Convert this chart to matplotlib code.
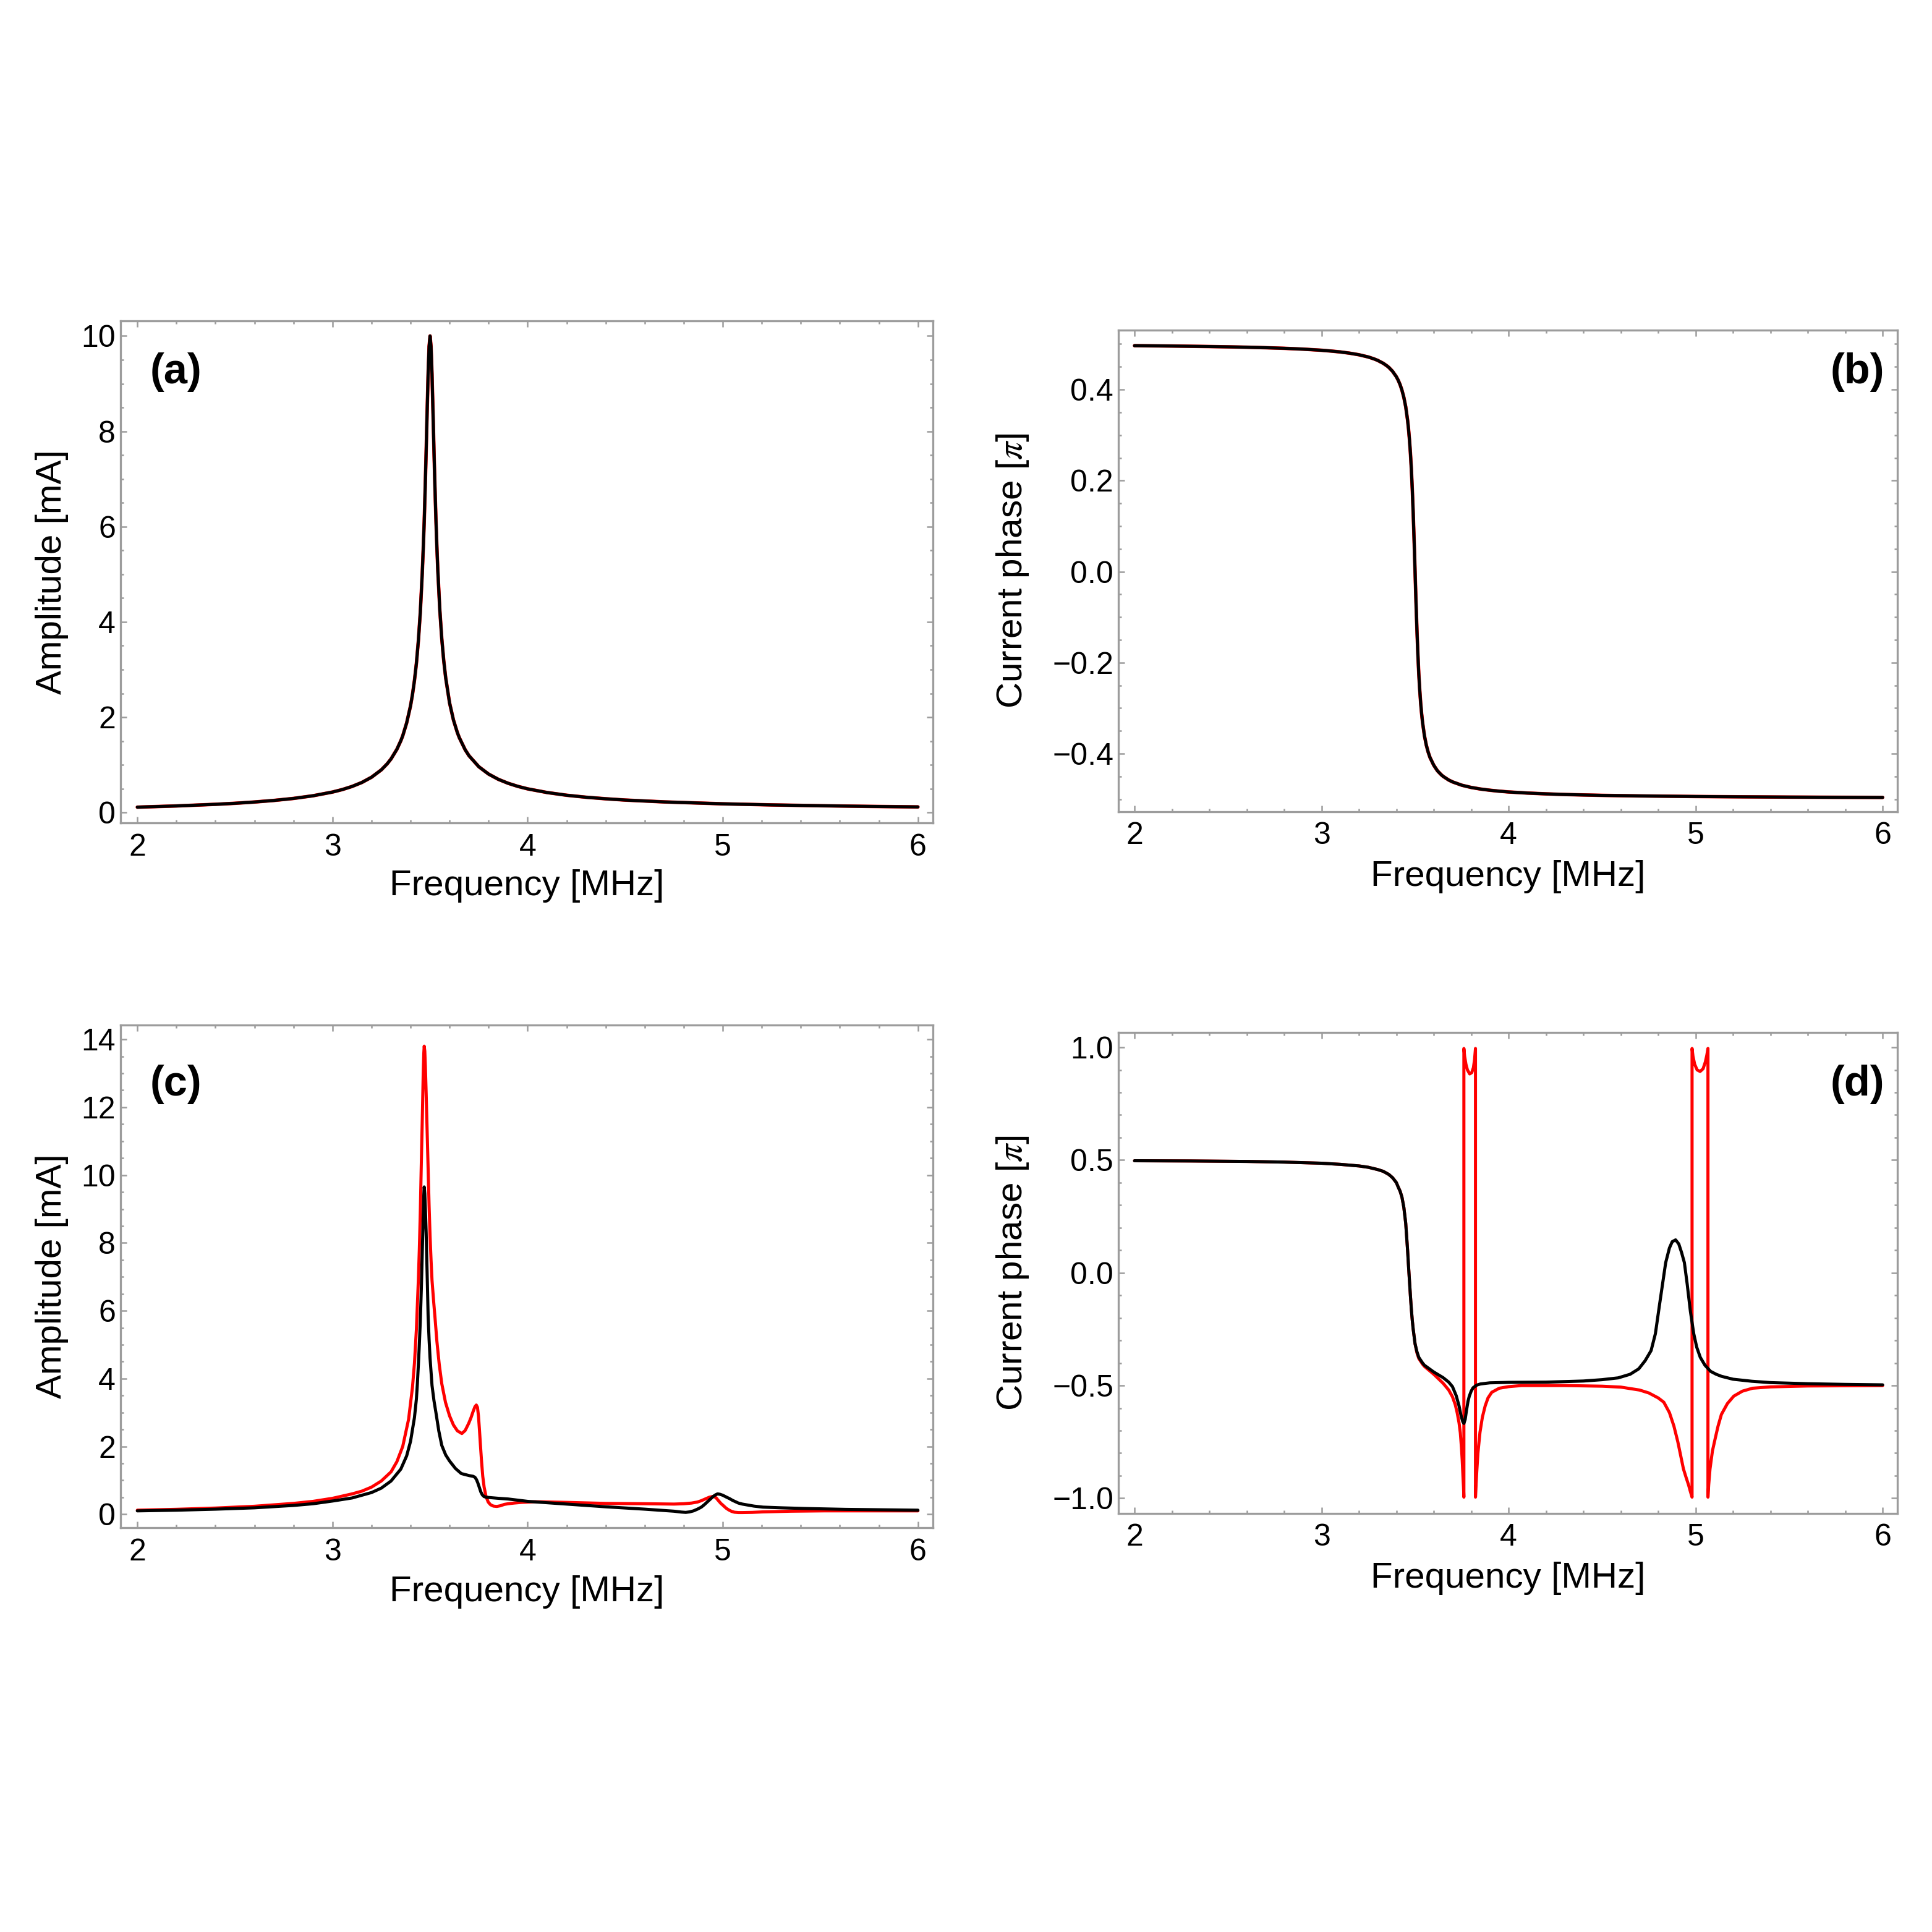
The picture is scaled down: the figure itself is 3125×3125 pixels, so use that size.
import matplotlib
matplotlib.use('Agg')
import matplotlib.pyplot as plt
from matplotlib.ticker import MultipleLocator, FuncFormatter

plt.rcParams['font.family'] = ['Liberation Sans', 'DejaVu Sans']
plt.rcParams['mathtext.fontset'] = 'stix'

# ---- data ----
# (a), (b): single resonance
freq_ab = [2.0, 2.2, 2.4, 2.5, 2.6, 2.7, 2.8, 2.9, 3.0, 3.05, 3.1, 3.15, 3.2, 3.25, 3.28, 3.3,
           3.33, 3.35, 3.36, 3.38, 3.4, 3.41, 3.42, 3.43, 3.44, 3.45, 3.46, 3.465, 3.47, 3.475,
           3.48, 3.485, 3.49, 3.495, 3.5, 3.505, 3.51, 3.515, 3.52, 3.525, 3.53, 3.535, 3.54,
           3.55, 3.56, 3.57, 3.58, 3.6, 3.62, 3.64, 3.65, 3.68, 3.7, 3.75, 3.8, 3.85, 3.9,
           3.95, 4.0, 4.1, 4.2, 4.3, 4.4, 4.5, 4.7, 5.0, 5.25, 5.5, 5.75, 6.0]
amp_a = [0.113, 0.1385, 0.1726, 0.194, 0.221, 0.254, 0.296, 0.352, 0.43, 0.482, 0.547, 0.63,
         0.741, 0.895, 1.021, 1.125, 1.327, 1.505, 1.611, 1.88, 2.24, 2.48, 2.77, 3.13, 3.6,
         4.2, 5.02, 5.53, 6.1, 6.81, 7.58, 8.41, 9.19, 9.78, 10.0, 9.78, 9.19, 8.42, 7.6, 6.84,
         6.16, 5.57, 5.06, 4.25, 3.65, 3.19, 2.83, 2.3, 1.94, 1.676, 1.57, 1.317, 1.19, 0.961,
         0.807, 0.697, 0.614, 0.549, 0.497, 0.42, 0.363, 0.321, 0.289, 0.262, 0.223, 0.183,
         0.16, 0.143, 0.129, 0.118]
phase_b = [0.4964, 0.4956, 0.4945, 0.4938, 0.493, 0.4919, 0.4906, 0.4888, 0.4863, 0.4846,
           0.4826, 0.4799, 0.4764, 0.4715, 0.4674, 0.4641, 0.4576, 0.4519, 0.4485, 0.4399,
           0.4281, 0.4203, 0.4107, 0.3984, 0.3828, 0.3621, 0.3326, 0.3135, 0.29, 0.2615,
           0.2261, 0.1821, 0.1292, 0.0673, 0.0, -0.0673, -0.128, -0.181, -0.2255, -0.2603,
           -0.2889, -0.312, -0.3312, -0.3604, -0.3812, -0.3966, -0.4086, -0.4255, -0.4379,
           -0.4464, -0.4499, -0.458, -0.462, -0.4694, -0.4743, -0.4778, -0.4804, -0.4825,
           -0.4842, -0.4866, -0.4884, -0.4898, -0.4908, -0.4917, -0.4929, -0.4942, -0.4949,
           -0.4955, -0.4959, -0.4962]

# (c) coupled case, amplitude [mA]
freq_c_red = [2.0, 2.2, 2.4, 2.6, 2.8, 2.9, 3.0, 3.1, 3.15, 3.2, 3.25, 3.3, 3.33, 3.36, 3.39,
              3.41, 3.42, 3.43, 3.44, 3.445, 3.45, 3.455, 3.46, 3.465, 3.468, 3.47, 3.473,
              3.476, 3.48, 3.485, 3.49, 3.495, 3.5, 3.505, 3.51, 3.518, 3.526, 3.535, 3.547,
              3.56, 3.579, 3.6, 3.62, 3.64, 3.663, 3.68, 3.698, 3.71, 3.72, 3.73, 3.737,
              3.743, 3.748, 3.753, 3.758, 3.764, 3.77, 3.777, 3.787, 3.798, 3.81, 3.825,
              3.842, 3.86, 3.88, 3.9, 3.93, 3.97, 4.04, 4.2, 4.4, 4.6, 4.75, 4.8, 4.84, 4.87,
              4.89, 4.91, 4.93, 4.952, 4.965, 4.975, 4.99, 5.0, 5.017, 5.03, 5.045, 5.06,
              5.08, 5.1, 5.15, 5.206, 5.35, 5.52, 6.0]
amp_c_red = [0.12, 0.146, 0.183, 0.236, 0.32, 0.38, 0.47, 0.6, 0.68, 0.8, 0.98, 1.25, 1.55,
             2.0, 2.8, 3.75, 4.45, 5.45, 6.9, 7.8, 8.9, 10.3, 11.6, 13.0, 13.6, 13.8, 13.65,
             13.2, 12.4, 11.3, 10.2, 9.1, 8.2, 7.5, 6.9, 6.3, 5.75, 5.1, 4.42, 3.85, 3.3, 2.9,
             2.63, 2.46, 2.38, 2.47, 2.68, 2.85, 3.02, 3.17, 3.22, 3.15, 2.9, 2.5, 2.05, 1.55,
             1.12, 0.8, 0.52, 0.36, 0.28, 0.24, 0.23, 0.25, 0.29, 0.31, 0.33, 0.35, 0.37, 0.35,
             0.32, 0.31, 0.3, 0.31, 0.33, 0.36, 0.4, 0.45, 0.5, 0.53, 0.49, 0.42, 0.32, 0.27,
             0.18, 0.13, 0.085, 0.06, 0.05, 0.05, 0.055, 0.07, 0.09, 0.1, 0.1]
freq_c_black = [2.0, 2.2, 2.4, 2.6, 2.8, 2.9, 3.0, 3.1, 3.2, 3.25, 3.3, 3.35, 3.38, 3.4, 3.42,
                3.43, 3.435, 3.44, 3.445, 3.45, 3.455, 3.46, 3.465, 3.468, 3.47, 3.473, 3.476,
                3.48, 3.485, 3.49, 3.495, 3.5, 3.51, 3.52, 3.53, 3.545, 3.56, 3.58, 3.6, 3.63,
                3.66, 3.7, 3.72, 3.73, 3.738, 3.745, 3.752, 3.76, 3.768, 3.777, 3.79, 3.85, 3.9,
                4.0, 4.2, 4.4, 4.6, 4.7, 4.75, 4.787, 4.81, 4.83, 4.85, 4.87, 4.89, 4.905, 4.92,
                4.935, 4.95, 4.962, 4.973, 4.985, 5.0, 5.017, 5.035, 5.05, 5.065, 5.08, 5.1,
                5.13, 5.16, 5.206, 5.3, 5.417, 5.63, 6.0]
amp_c_black = [0.1, 0.12, 0.15, 0.19, 0.26, 0.31, 0.39, 0.48, 0.64, 0.77, 0.98, 1.33, 1.72,
               2.15, 2.85, 3.4, 3.85, 4.4, 5.0, 5.7, 6.6, 7.7, 8.8, 9.4, 9.65, 9.45, 9.0, 8.3,
               7.1, 5.85, 5.15, 4.6, 3.8, 3.35, 3.0, 2.45, 2.03, 1.75, 1.57, 1.35, 1.2, 1.14,
               1.12, 1.09, 1.02, 0.92, 0.8, 0.66, 0.57, 0.52, 0.5, 0.47, 0.45, 0.38, 0.3, 0.22,
               0.15, 0.11, 0.09, 0.065, 0.055, 0.07, 0.1, 0.15, 0.21, 0.28, 0.36, 0.44, 0.52,
               0.57, 0.6, 0.59, 0.56, 0.51, 0.46, 0.41, 0.37, 0.33, 0.3, 0.27, 0.24, 0.21, 0.19,
               0.17, 0.144, 0.12]

# (d) coupled case, phase [pi]; red wraps between -1 and +1
freq_d_red = [2.0, 2.3, 2.6, 2.8, 3.0, 3.1, 3.2, 3.25, 3.3, 3.33, 3.36, 3.38, 3.4, 3.41, 3.42,
              3.43, 3.44, 3.45, 3.46, 3.465, 3.47, 3.475, 3.48, 3.485, 3.49, 3.5, 3.51, 3.52,
              3.54, 3.55, 3.6, 3.65, 3.68, 3.7, 3.715, 3.725, 3.735, 3.742, 3.748, 3.752,
              3.756, 3.759, 3.761, 3.761, 3.765, 3.772, 3.78, 3.792, 3.803, 3.812, 3.818,
              3.823, 3.823, 3.826, 3.83, 3.836, 3.847, 3.86, 3.875, 3.89, 3.91, 3.95, 4.0,
              4.07, 4.3, 4.5, 4.6, 4.7, 4.75, 4.8, 4.83, 4.86, 4.884, 4.905, 4.92, 4.935, 4.95,
              4.962, 4.972, 4.981, 4.981, 4.986, 4.995, 5.008, 5.024, 5.04, 5.052, 5.06, 5.066,
              5.066, 5.07, 5.077, 5.09, 5.105, 5.12, 5.138, 5.17, 5.204, 5.25, 5.304, 5.4, 5.6,
              6.0]
phase_d_red = [0.497, 0.496, 0.494, 0.491, 0.486, 0.481, 0.474, 0.468, 0.458, 0.45, 0.436,
               0.4215, 0.4, 0.38, 0.362, 0.335, 0.29, 0.22, 0.1, 0.03, -0.035, -0.1, -0.16,
               -0.21, -0.25, -0.315, -0.355, -0.38, -0.405, -0.415, -0.45, -0.49, -0.52, -0.55,
               -0.585, -0.62, -0.665, -0.71, -0.775, -0.83, -0.9, -0.95, -0.995, 0.995, 0.96,
               0.925, 0.9, 0.882, 0.888, 0.91, 0.945, 0.995, -0.995, -0.94, -0.88, -0.8, -0.708,
               -0.64, -0.59, -0.555, -0.53, -0.512, -0.505, -0.5, -0.5, -0.503, -0.507, -0.52,
               -0.533, -0.555, -0.574, -0.62, -0.68, -0.75, -0.81, -0.87, -0.91, -0.94, -0.97,
               -0.995, 0.995, 0.96, 0.925, 0.9, 0.893, 0.905, 0.935, 0.965, 0.995, -0.995,
               -0.94, -0.87, -0.79, -0.734, -0.68, -0.628, -0.58, -0.547, -0.525, -0.512,
               -0.506, -0.502, -0.5]
freq_d_black = [2.0, 2.3, 2.6, 2.8, 3.0, 3.1, 3.2, 3.25, 3.3, 3.33, 3.36, 3.38, 3.4, 3.41,
                3.42, 3.43, 3.44, 3.45, 3.46, 3.465, 3.47, 3.475, 3.48, 3.485, 3.49, 3.5, 3.51,
                3.52, 3.54, 3.55, 3.6, 3.65, 3.68, 3.7, 3.72, 3.735, 3.745, 3.755, 3.761,
                3.768, 3.775, 3.783, 3.79, 3.8, 3.81, 3.83, 3.85, 3.9, 4.0, 4.2, 4.4, 4.5,
                4.586, 4.65, 4.696, 4.73, 4.762, 4.785, 4.807, 4.825, 4.84, 4.86, 4.875, 4.893,
                4.91, 4.925, 4.94, 4.955, 4.972, 4.99, 5.006, 5.025, 5.05, 5.08, 5.11, 5.138,
                5.2, 5.3, 5.4, 5.6, 5.8, 6.0]
phase_d_black = [0.497, 0.496, 0.494, 0.491, 0.486, 0.481, 0.474, 0.468, 0.458, 0.45, 0.436,
                 0.4215, 0.4, 0.38, 0.362, 0.335, 0.29, 0.22, 0.1, 0.03, -0.035, -0.1, -0.16,
                 -0.21, -0.25, -0.315, -0.35, -0.375, -0.4, -0.41, -0.44, -0.465, -0.485,
                 -0.505, -0.545, -0.59, -0.63, -0.66, -0.668, -0.65, -0.61, -0.57, -0.547,
                 -0.525, -0.51, -0.498, -0.493, -0.488, -0.486, -0.485, -0.48, -0.474, -0.466,
                 -0.45, -0.426, -0.39, -0.345, -0.27, -0.142, -0.04, 0.045, 0.11, 0.138, 0.146,
                 0.128, 0.09, 0.045, -0.05, -0.17, -0.27, -0.33, -0.375, -0.41, -0.437, -0.45,
                 -0.459, -0.472, -0.481, -0.487, -0.492, -0.495, -0.497]

RED = '#ff0000'
FRAME = '#9c9c9c'


def minus(v, pos):
    return ('%.1f' % v).replace('-', '\u2212')


def style(ax, ylim, ymaj, ymin, yfmt=None):
    ax.set_xlim(1.915, 6.078)
    ax.set_ylim(*ylim)
    ax.xaxis.set_major_locator(MultipleLocator(1))
    ax.xaxis.set_minor_locator(MultipleLocator(0.2))
    ax.yaxis.set_major_locator(MultipleLocator(ymaj))
    ax.yaxis.set_minor_locator(MultipleLocator(ymin))
    if yfmt is not None:
        ax.yaxis.set_major_formatter(FuncFormatter(yfmt))
    for sp in ax.spines.values():
        sp.set_color(FRAME)
        sp.set_linewidth(0.8)
    ax.tick_params(which='both', direction='in', top=True, right=True,
                   color=FRAME, width=0.6, labelsize=12, labelcolor='black')
    ax.tick_params(which='major', length=2.4)
    ax.tick_params(which='minor', length=1.3)
    ax.tick_params(axis='x', which='major', pad=4)
    ax.tick_params(axis='y', which='major', pad=2)


fig = plt.figure(figsize=(3125 / 300, 3125 / 300), dpi=300)
ax_a = fig.add_axes([0.0625, 0.574, 0.4205, 0.260])
ax_b = fig.add_axes([0.579, 0.580, 0.403, 0.249])
ax_c = fig.add_axes([0.0625, 0.2092, 0.4205, 0.2602])
ax_d = fig.add_axes([0.579, 0.2168, 0.403, 0.2488])

lw = 1.2
kw = dict(solid_joinstyle='round', solid_capstyle='round')
ax_a.plot(freq_ab, amp_a, color=RED, lw=lw + 0.15, **kw)
ax_a.plot(freq_ab, amp_a, color='black', lw=lw, **kw)
ax_b.plot(freq_ab, phase_b, color=RED, lw=lw + 0.15, **kw)
ax_b.plot(freq_ab, phase_b, color='black', lw=lw, **kw)
ax_c.plot(freq_c_red, amp_c_red, color=RED, lw=lw, **kw)
ax_c.plot(freq_c_black, amp_c_black, color='black', lw=lw, **kw)
ax_d.plot(freq_d_red, phase_d_red, color=RED, lw=lw, **kw)
ax_d.plot(freq_d_black, phase_d_black, color='black', lw=lw, **kw)

style(ax_a, (-0.22, 10.32), 2, 0.5)
style(ax_b, (-0.527, 0.53), 0.2, 0.05, minus)
style(ax_c, (-0.4, 14.42), 2, 0.5)
style(ax_d, (-1.066, 1.066), 0.5, 0.1, minus)

for ax, lbl, xl, yl, px, py in [
        (ax_a, '(a)', -0.125, -0.085, 0.068, 0.897),
        (ax_b, '(b)', -0.136, -0.136, 0.949, 0.913),
        (ax_c, '(c)', -0.1275, -0.085, 0.068, 0.882),
        (ax_d, '(d)', -0.136, -0.136, 0.949, 0.892)]:
    ax.set_xlabel('Frequency [MHz]', fontsize=14)
    ax.xaxis.label.set_va('center')
    ax.xaxis.set_label_coords(0.5, xl)
    ylab = 'Amplitude [mA]' if ax in (ax_a, ax_c) else 'Current phase [$\\pi$]'
    ax.set_ylabel(ylab, fontsize=14)
    ax.yaxis.label.set_va('center')
    ax.yaxis.set_label_coords(yl, 0.5)
    ax.text(px, py, lbl, transform=ax.transAxes, fontsize=16.5, fontweight='bold',
            ha='center', va='center')

fig.savefig('out.png', dpi=300, facecolor='white')
